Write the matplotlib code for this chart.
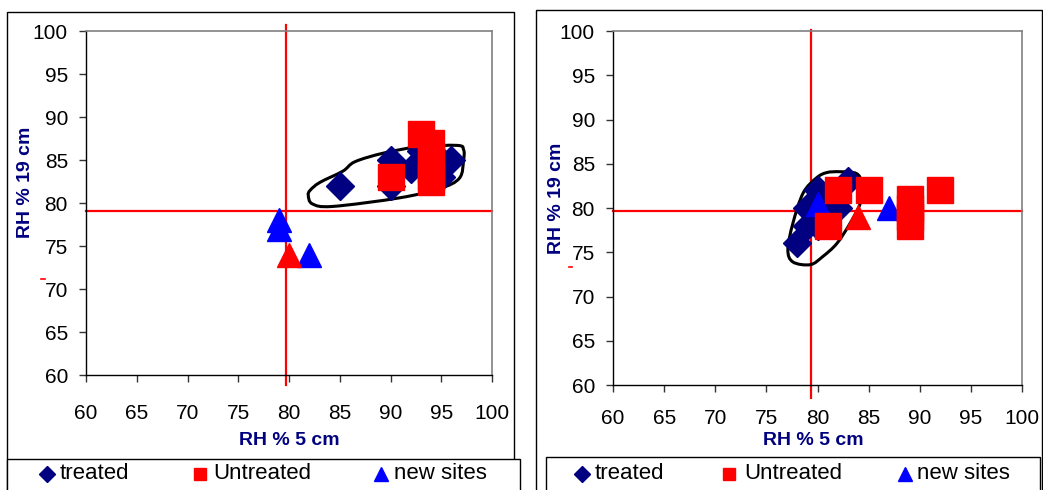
import numpy as np
import matplotlib
matplotlib.use("Agg")
import matplotlib.pyplot as plt
from matplotlib.path import Path
from matplotlib.patches import PathPatch, Rectangle
from matplotlib.lines import Line2D

plt.rcParams['font.family'] = ['Liberation Sans', 'DejaVu Sans']

# ---------------- data ----------------
# Left chart
left_treated_x = [85, 90, 90, 92, 93, 94, 95, 96, 95, 94]
left_treated_y = [82, 85, 82, 84, 86, 85, 85, 85, 83, 84]
left_untreated_x = [90, 93, 94, 94, 94, 94, 94]
left_untreated_y = [83, 88, 87, 85.5, 84, 83, 82.5]
left_new_x = [79, 79, 82]
left_new_y = [78, 77, 74]
left_new_untr_x = [80]
left_new_untr_y = [74]
left_vline = 79.7
left_hline = 79.1
left_blob_x = [82.1, 83.05, 85.3, 86.5, 89.3, 92.6, 96.55, 97.2, 97.2, 96.8, 94.9, 90.9, 84.3, 82.3, 81.9]
left_blob_y = [81.5, 82.4, 83.7, 84.8, 85.8, 86.5, 86.7, 86.2, 85.0, 82.9, 81.7, 80.6, 79.6, 79.9, 80.9]

# Right chart
right_treated_x = [78, 79, 79, 80, 80, 82, 83, 81]
right_treated_y = [76, 78, 80, 78, 82, 80, 83, 81]
right_untreated_x = [82, 85, 92, 81, 89, 89, 89, 89]
right_untreated_y = [82, 82, 82, 78, 81, 80, 79, 78]
right_new_x = [87, 80]
right_new_y = [80, 80.5]
right_new_untr_x = [84]
right_new_untr_y = [79]
right_vline = 79.4
right_hline = 79.7
right_blob_x = [82.2, 83.8, 84.3, 84.2, 83.2, 81.9, 80.5, 79.3, 77.6, 77.1, 77.6, 78.6, 79.9, 80.9]
right_blob_y = [84.1, 83.9, 82.8, 80.6, 78.3, 76.0, 74.5, 73.6, 73.9, 75.3, 78.3, 81.7, 83.4, 84.0]

xticks = [60, 65, 70, 75, 80, 85, 90, 95, 100]
yticks = [60, 65, 70, 75, 80, 85, 90, 95, 100]
legend_labels = ["treated", "Untreated", "new sites"]

NAVY = "#000080"
RED = "#FF0000"
BLUE = "#0000FF"

W, H = 1043, 490
fig = plt.figure(figsize=(W / 100, H / 100), dpi=100)


def fx(px):
    return px / W


def fy(py):
    return 1 - py / H


def smooth_closed(xs, ys):
    # closed Catmull-Rom curve through the outline points
    P = np.column_stack([xs, ys]).astype(float)
    n = len(P)
    verts = [tuple(P[0])]
    codes = [Path.MOVETO]
    for i in range(n):
        p0, p1, p2, p3 = P[(i - 1) % n], P[i], P[(i + 1) % n], P[(i + 2) % n]
        c1 = p1 + (p2 - p0) / 6
        c2 = p2 - (p3 - p1) / 6
        verts += [tuple(c1), tuple(c2), tuple(p2)]
        codes += [Path.CURVE4] * 3
    return Path(verts, codes)


def make_panel(box, tx, ty, ux, uy, nx, ny, nux, nuy, vline, vext, hline, bx, by, xpad, ypad):
    l, r, t, b = box
    ax = fig.add_axes([fx(l), fy(b), fx(r) - fx(l), fy(t) - fy(b)])
    ax.set_xlim(60, 100)
    ax.set_ylim(60, 100)
    ax.set_xticks(xticks)
    ax.set_yticks(yticks)
    ax.tick_params(direction='out', length=5, width=1, labelsize=15, color='#333333')
    ax.tick_params(axis='x', pad=xpad)
    ax.tick_params(axis='y', pad=ypad)
    for s in ['top', 'right']:
        ax.spines[s].set_color('#808080')
        ax.spines[s].set_linewidth(1.2)
    for s in ['left', 'bottom']:
        ax.spines[s].set_color('black')
        ax.spines[s].set_linewidth(1)
    # reference lines
    ax.plot([60, 100], [hline, hline], color=RED, lw=1.6, zorder=2, clip_on=False)
    ax.plot([vline, vline], vext, color=RED, lw=1.6, zorder=2, clip_on=False)
    # enclosing outline
    ax.add_patch(PathPatch(smooth_closed(bx, by), facecolor='none', edgecolor='black', lw=2.2, zorder=3))
    ax.plot(tx, ty, ls='none', marker='D', ms=14, color=NAVY, mec=NAVY, zorder=4)
    ax.plot(nx, ny, ls='none', marker='^', ms=17, color=BLUE, mec=BLUE, zorder=5)
    ax.plot(nux, nuy, ls='none', marker='^', ms=17, color=RED, mec=RED, zorder=5)
    ax.plot(ux, uy, ls='none', marker='s', ms=19, color=RED, mec=RED, zorder=6)
    return ax


axL = make_panel((86, 492, 31, 375), left_treated_x, left_treated_y, left_untreated_x, left_untreated_y,
                 left_new_x, left_new_y, left_new_untr_x, left_new_untr_y,
                 left_vline, [100.7, 58.8], left_hline, left_blob_x, left_blob_y, 16, 8)
axR = make_panel((613, 1022, 31, 385), right_treated_x, right_treated_y, right_untreated_x, right_untreated_y,
                 right_new_x, right_new_y, right_new_untr_x, right_new_untr_y,
                 right_vline, [100.1, 58.5], right_hline, right_blob_x, right_blob_y, 12, 8)

# axis labels
for cx, cy, txt in [(289, 440, "RH % 5 cm"), (813, 440, "RH % 5 cm")]:
    fig.text(fx(cx), fy(cy), txt, ha='center', va='center', fontsize=14, fontweight='bold', color=NAVY)
for cx, cy in [(26, 182), (556, 198)]:
    fig.text(fx(cx), fy(cy), "RH % 19 cm", ha='center', va='center', rotation=90,
             fontsize=14, fontweight='bold', color=NAVY)

# outer frames and legend boxes
for (x0, y0, x1, y1) in [(7, 12, 514, 495), (536, 10, 1042, 495)]:
    fig.add_artist(Rectangle((fx(x0), fy(y1)), fx(x1) - fx(x0), fy(y0) - fy(y1),
                             transform=fig.transFigure, fill=False, ec='black', lw=1))
for (x0, y0, x1, y1) in [(7, 459, 520, 495), (546, 457, 1040, 495)]:
    fig.add_artist(Rectangle((fx(x0), fy(y1)), fx(x1) - fx(x0), fy(y0) - fy(y1),
                             transform=fig.transFigure, fill=True, fc='white', ec='black', lw=1))

# legends
leg_markers = [('D', NAVY, 8), ('s', RED, 9), ('^', BLUE, 10)]
for mx_list, tx_list in [([47, 200, 381], [60, 213, 394]), ([582, 729, 905], [595, 744, 917])]:
    for (mk, col, ms), mx, tx, lab in zip(leg_markers, mx_list, tx_list, legend_labels):
        fig.add_artist(Line2D([fx(mx)], [fy(474)], transform=fig.transFigure, marker=mk,
                              ms=ms, color=col, mec=col, ls='none'))
        fig.text(fx(tx), fy(473), lab, ha='left', va='center', fontsize=16, color='black')

# small red stray marks
for (x0, x1, y) in [(41, 45, 279), (569, 572, 267)]:
    fig.add_artist(Line2D([fx(x0), fx(x1)], [fy(y), fy(y)], transform=fig.transFigure, color=RED, lw=1.2))

fig.savefig("out.png", dpi=100)
